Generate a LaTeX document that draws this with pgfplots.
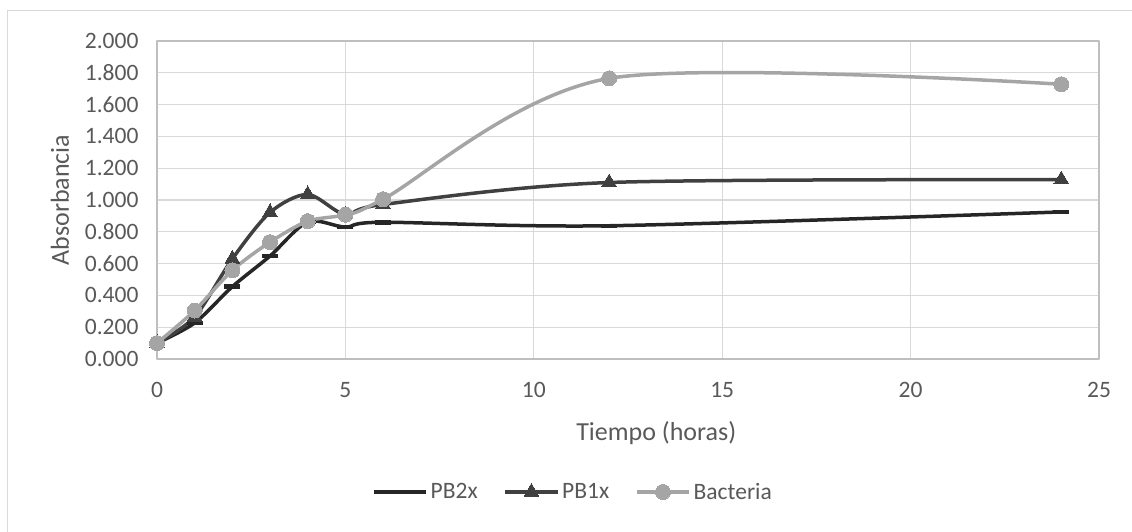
\documentclass[border=0pt]{standalone}
\usepackage{pgfplots}
\pgfplotsset{compat=1.18}
\usepackage{fontspec}
\setmainfont{Carlito}
\definecolor{txt}{HTML}{595959}
\definecolor{gridc}{HTML}{D9D9D9}
\definecolor{axc}{HTML}{BFBFBF}
\definecolor{cpbtwo}{HTML}{262626}
\definecolor{cpbone}{HTML}{404040}
\definecolor{cbac}{HTML}{A5A5A5}
\begin{document}
\begin{tikzpicture}[x=1pt,y=1pt]
\useasboundingbox (0,0) rectangle (1132,531);
\draw[gridc, line width=1pt] (7,520) rectangle (1140,-10);
\begin{axis}[
  at={(157pt,172pt)}, anchor=south west,
  scale only axis, width=942pt, height=318pt,
  xmin=0, xmax=25, ymin=0, ymax=2,
  xtick={0,5,...,25}, ytick={0,0.2,...,2.0},
  grid=major, major grid style={gridc, line width=1.2pt},
  axis line style={axc, line width=1.2pt},
  tick style={draw=none},
  tick label style={font=\fontsize{23.5}{23.5}\selectfont, text=txt},
  /pgf/number format/assume math mode=true,
  yticklabel style={/pgf/number format/fixed, /pgf/number format/fixed zerofill, /pgf/number format/precision=3, xshift=-15pt},
  xticklabel style={yshift=-20pt},
  xlabel={Tiempo (horas)}, ylabel={Absorbancia},
  label style={font=\fontsize{26}{26}\selectfont, text=txt},
  xlabel style={at={(axis description cs:0.53,-0.233)}, anchor=center},
  ylabel style={at={(axis description cs:-0.103,0.5)}, anchor=center},
  legend columns=3,
  legend style={at={(axis description cs:0.4416,-0.418)}, anchor=center, draw=none,
    font=\fontsize{23.5}{23.5}\selectfont, text=txt,
    /tikz/every odd column/.append style={column sep=1pt},
    /tikz/every even column/.append style={column sep=24pt}},
  legend image code/.code={\draw[#1, mark repeat=2, mark phase=2] plot coordinates {(0pt,0pt) (26pt,0pt) (52pt,0pt)};},
  line join=round,
]
\addplot[cpbtwo, line width=3.5pt, smooth, mark=-, mark size=8pt, mark options={line width=4.5pt}]
  coordinates {(0,0.100) (1,0.227) (2,0.455) (3,0.648) (4,0.862) (5,0.830) (6,0.860) (12,0.838) (24,0.925)};
\addlegendentry{PB2x}
\addplot[cpbone, line width=3.5pt, smooth, mark=triangle*, mark size=8.5pt, mark options={line width=0pt}]
  coordinates {(0,0.100) (1,0.265) (2,0.630) (3,0.922) (4,1.035) (5,0.908) (6,0.972) (12,1.110) (24,1.128)};
\addlegendentry{PB1x}
\addplot[cbac, line width=3.5pt, smooth, mark=*, mark size=7.5pt, mark options={line width=0pt}]
  coordinates {(0,0.100) (1,0.305) (2,0.558) (3,0.735) (4,0.867) (5,0.908) (6,1.005) (12,1.765) (24,1.728)};
\addlegendentry{Bacteria}
\end{axis}
\end{tikzpicture}
\end{document}
